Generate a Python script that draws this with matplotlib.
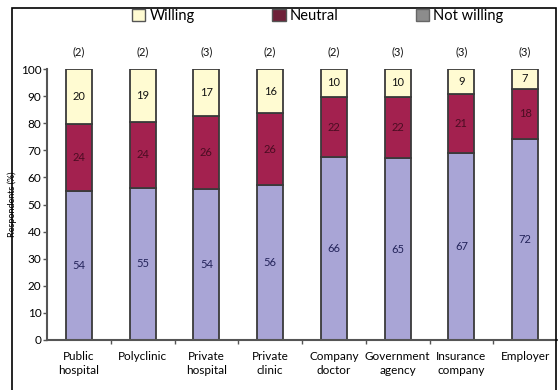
# willingness to share by organisation type - stacked bars

import numpy as np
import pandas as pd
import matplotlib
matplotlib.use("Agg")
import matplotlib.pyplot as plt
from matplotlib.patches import Patch, Rectangle

plt.rcParams['font.family'] = ['Lato', 'DejaVu Sans']

categories = ["Public\nhospital", "Polyclinic", "Private\nhospital", "Private\nclinic",
              "Company\ndoctor", "Government\nagency", "Insurance\ncompany", "Employer"]
not_willing = [54, 55, 54, 56, 66, 65, 67, 72]
neutral = [24, 24, 26, 26, 22, 22, 21, 18]
willing = [20, 19, 17, 16, 10, 10, 9, 7]
missing = [2, 2, 3, 2, 2, 3, 3, 3]

df = pd.DataFrame({"not_willing": not_willing, "neutral": neutral, "willing": willing},
                  index=categories)
# bars are drawn rescaled to the answered share so each reaches 100
scaled = df.div(df.sum(axis=1), axis=0) * 100

c_low = "#a9a5d6"
c_mid = "#a3214f"
c_top = "#fffbd2"
edge = "#3a3a3a"

fig = plt.figure(figsize=(5.58, 3.90), dpi=100)
ax = fig.add_axes([47 / 558, 50 / 390, 510 / 558, 271 / 390])

x = np.arange(len(categories))
w = 0.41
ax.bar(x, scaled.not_willing, w, color=c_low, edgecolor=edge, linewidth=1.3)
ax.bar(x, scaled.neutral, w, bottom=scaled.not_willing, color=c_mid,
       edgecolor=edge, linewidth=1.3)
ax.bar(x, scaled.willing, w, bottom=scaled.not_willing + scaled.neutral,
       color=c_top, edgecolor=edge, linewidth=1.3)

for i in range(len(categories)):
    lo = scaled.not_willing.iloc[i]
    mid = scaled.neutral.iloc[i]
    top = scaled.willing.iloc[i]
    ax.text(x[i], lo / 2, str(not_willing[i]), ha="center", va="center",
            fontsize=8, color="#23235a")
    ax.text(x[i], lo + mid / 2, str(neutral[i]), ha="center", va="center",
            fontsize=8, color="#4a0d22")
    ax.text(x[i], lo + mid + top / 2, str(willing[i]), ha="center", va="center",
            fontsize=8, color="#111111")
    ax.text(x[i], 106.5, "(%d)" % missing[i], ha="center", va="center",
            fontsize=8, color="#111111", clip_on=False)

ax.set_xlim(-0.5, 7.5)
ax.set_ylim(0, 100)
ax.set_yticks(range(0, 101, 10))
ax.tick_params(axis="y", labelsize=8.5, length=3, width=1, color="#555555", pad=1)
ax.set_xticks(x)
ax.set_xticklabels(categories, fontsize=8.5, linespacing=1.3)
ax.tick_params(axis="x", length=0, pad=8)
ax.set_xticks(x[:-1] + 0.5, minor=True)
ax.tick_params(axis="x", which="minor", length=3, width=1, color="#555555")
ax.set_ylabel("Respondents (%)", fontsize=6.5)
ax.yaxis.set_label_coords(-30 / 510, 0.5)

for s in ["top", "right"]:
    ax.spines[s].set_visible(False)
for s in ["left", "bottom"]:
    ax.spines[s].set_color("#555555")
    ax.spines[s].set_linewidth(1.5)

handles = [Patch(facecolor=c_top, edgecolor="#555555", label="Willing"),
           Patch(facecolor="#6e2038", edgecolor="#555555", label="Neutral"),
           Patch(facecolor="#8c8c8c", edgecolor="#666666", label="Not willing")]
fig.legend(handles=handles, loc="center", bbox_to_anchor=(318 / 558, 1 - 16 / 390),
           ncol=3, frameon=False, fontsize=10.5, handlelength=0.9, handleheight=0.9,
           handletextpad=0.3, columnspacing=5.3)

fig.patches.append(Rectangle((12 / 558, -0.01), 544 / 558, 1 - 8 / 390 + 0.01,
                             transform=fig.transFigure, fill=False,
                             edgecolor="black", linewidth=1.2))

fig.savefig("out.png", dpi=100)
